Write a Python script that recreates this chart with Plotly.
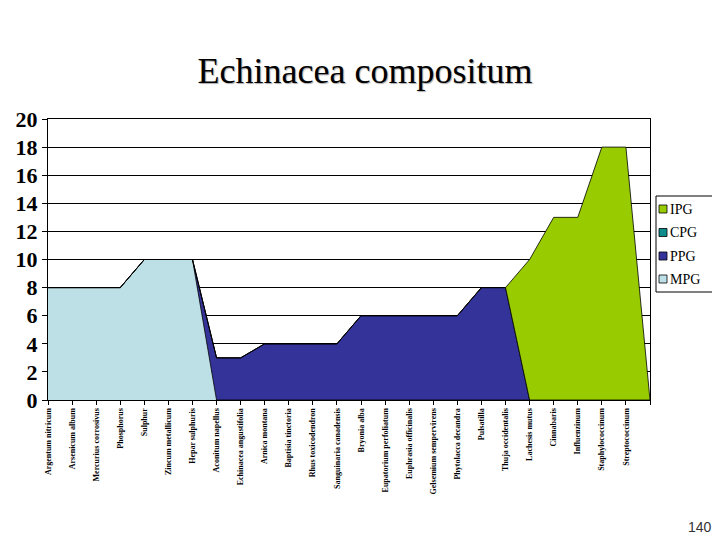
import plotly.graph_objects as go

categories = [
    "Argentum nitricum", "Arsenicum album", "Mercurius corrosivus", "Phosphorus",
    "Sulphur", "Zincum metallicum", "Hepar sulphuris", "Aconitum napellus",
    "Echinacea angustifolia", "Arnica montana", "Baptisia tinctoria",
    "Rhus toxicodendron", "Sanguinaria canadensis", "Bryonia alba",
    "Eupatorium perfoliatum", "Euphrasia officinalis", "Gelsemium sempervirens",
    "Phytolacca decandra", "Pulsatilla", "Thuja occidentalis", "Lachesis mutus",
    "Cinnabaris", "Influenzinum", "Staphylococcinum", "Streptococcinum", "",
]
mpg = [8, 8, 8, 8, 10, 10, 10, 0, 0, 0, 0, 0, 0, 0, 0, 0, 0, 0, 0, 0, 0, 0, 0, 0, 0, 0]
ppg = [0, 0, 0, 0, 0, 0, 0, 3, 3, 4, 4, 4, 4, 6, 6, 6, 6, 6, 8, 8, 0, 0, 0, 0, 0, 0]
cpg = [0] * 26
ipg = [0, 0, 0, 0, 0, 0, 0, 0, 0, 0, 0, 0, 0, 0, 0, 0, 0, 0, 0, 0, 10, 13, 13, 18, 18, 0]

series_names = ["MPG", "PPG", "CPG", "IPG"]
series_values = [mpg, ppg, cpg, ipg]
series_colors = ["#BCE0E6", "#333399", "#0E8C8C", "#99CC00"]

x = list(range(len(categories)))

fig = go.Figure()
for name, vals, col in zip(series_names, series_values, series_colors):
    fig.add_trace(go.Scatter(
        x=x, y=vals, name=name, mode="lines", stackgroup="one",
        fillcolor=col, line=dict(color="#000000", width=0.8),
        showlegend=False,
    ))

# page offset (browser body margin)
OFF = 8
W, H = 720 - OFF, 540 - OFF
# plot area in page pixels
L, R, T, B = 48, 650, 119, 400
Lf, Rf, Tf, Bf = L - OFF, R - OFF, T - OFF, B - OFF


def px(xp):
    return (xp - L) / (R - L)


def py(yp):
    return (B - yp) / (B - T)


shapes = []
annotations = []
# legend box
shapes.append(dict(type="rect", xref="paper", yref="paper",
                   x0=px(656), x1=px(714), y0=py(292), y1=py(196),
                   line=dict(color="#000000", width=1), fillcolor="white"))
leg_y = [209, 232.5, 256, 279]
for i, (name, col) in enumerate(zip(series_names[::-1], series_colors[::-1])):
    yc = leg_y[i]
    shapes.append(dict(type="rect", xref="paper", yref="paper",
                       x0=px(659), x1=px(667), y0=py(yc + 4), y1=py(yc - 4),
                       line=dict(color="#000000", width=0.8), fillcolor=col))
    annotations.append(dict(text=name, xref="paper", yref="paper",
                            x=px(668.5), y=py(yc), xanchor="left", yanchor="middle",
                            showarrow=False,
                            font=dict(family="Liberation Serif", size=14, color="#000000")))

annotations.append(dict(text="140", xref="paper", yref="paper",
                        x=px(700), y=py(527), xanchor="center", yanchor="middle",
                        showarrow=False,
                        font=dict(family="Liberation Sans", size=14, color="#333333")))

fig.update_layout(
    width=W, height=H,
    paper_bgcolor="white", plot_bgcolor="white",
    margin=dict(l=Lf, r=W - Rf, t=Tf, b=H - Bf, autoexpand=False),
    title=dict(text="Echinacea compositum", x=(365 - OFF) / W, xref="container",
               xanchor="center", y=1 - (70 - OFF) / H, yanchor="middle",
               font=dict(family="Liberation Serif", size=36, color="#000000",
                         shadow="1px 1px 1px #aaaaaa")),
    shapes=shapes, annotations=annotations,
    showlegend=False,
)
fig.update_xaxes(
    range=[0, len(categories) - 1], tickmode="array", tickvals=x, ticktext=categories,
    tickangle=-90, ticks="outside", ticklen=4, tickcolor="#000000",
    showline=True, linecolor="#000000", linewidth=1, mirror=True,
    showgrid=False, zeroline=False,
    tickfont=dict(family="Liberation Serif", size=8, color="#000000", weight="bold"),
)
fig.update_yaxes(
    range=[0, 20], dtick=2, ticks="outside", ticklen=5, tickcolor="#000000",
    showline=True, linecolor="#000000", linewidth=1, mirror=True,
    showgrid=True, gridcolor="#000000", gridwidth=1, zeroline=False,
    tickfont=dict(family="Liberation Serif", size=22, color="#000000", weight="bold"),
)

fig.write_html("out.html")
